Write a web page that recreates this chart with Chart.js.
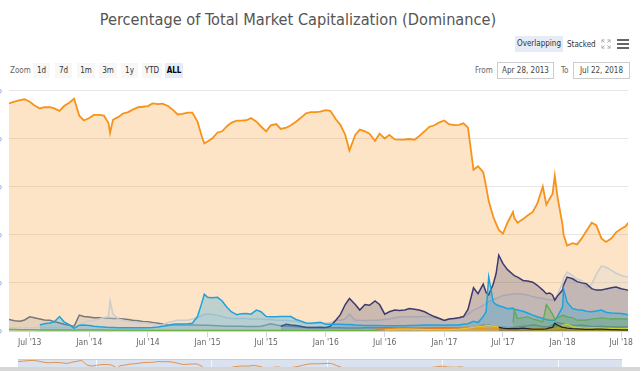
<!DOCTYPE html>
<html>
<head>
<meta charset="utf-8">
<script src="https://cdn.jsdelivr.net/npm/chart.js@4.4.0/dist/chart.umd.min.js"></script>
<style>
  html, body { margin: 0; padding: 0; }
  body {
    width: 640px; height: 371px; overflow: hidden; position: relative; background: #fff;
    font-family: "Liberation Sans Narrow", "DejaVu Sans Condensed", Roboto, sans-serif;
  }
  .abs { position: absolute; }
  #title { left: 0; top: 10px; width: 596px; text-align: center; font-size: 16.2px; color: #555; }
  .btn {
    position: absolute; top: 63px; height: 15px; line-height: 15px; font-size: 8px;
    color: #333; background: #f7f7f7; text-align: center;
  }
  .btn.on { background: #e6ebf5; color: #000; font-weight: bold; }
  .lbl { position: absolute; font-size: 8px; color: #666; line-height: 15px; }
  .inp {
    position: absolute; top: 62px; height: 15px; line-height: 15px; font-size: 8px; color: #444;
    border: 1px solid #ccc; text-align: center;
  }
  .bar { position: absolute; left: 617px; width: 12px; height: 2px; background: #666; }
</style>
</head>
<body>
<div id="title" class="abs">Percentage of Total Market Capitalization (Dominance)</div>

<div class="btn on" style="left:515px;top:36px;width:48px;height:16px;line-height:16px;font-weight:normal;color:#333">Overlapping</div>
<div class="lbl" style="left:567px;top:37px;color:#333">Stacked</div>
<svg class="abs" style="left:601px;top:39px" width="10" height="10" viewBox="0 0 11 11">
  <g stroke="#aaa" stroke-width="1" fill="none">
    <path d="M1 4V1h3M1 1l3 3"/><path d="M10 4V1H7M10 1L7 4"/>
    <path d="M1 7v3h3M1 10l3-3"/><path d="M10 7v3H7M10 10L7 7"/>
  </g>
</svg>
<div class="bar" style="top:39px"></div>
<div class="bar" style="top:43px"></div>
<div class="bar" style="top:47px"></div>

<div class="lbl" style="left:10px;top:63px">Zoom</div>
<div class="btn" style="left:33px;width:17px">1d</div>
<div class="btn" style="left:55px;width:17px">7d</div>
<div class="btn" style="left:77px;width:18px">1m</div>
<div class="btn" style="left:99px;width:18px">3m</div>
<div class="btn" style="left:121px;width:17px">1y</div>
<div class="btn" style="left:142px;width:20px">YTD</div>
<div class="btn on" style="left:165px;width:18px">ALL</div>

<div class="lbl" style="left:475px;top:63px">From</div>
<div class="inp" style="left:497px;width:55px">Apr 28, 2013</div>
<div class="lbl" style="left:561px;top:63px">To</div>
<div class="inp" style="left:573px;width:55px">Jul 22, 2018</div>

<canvas id="main" width="680" height="283" class="abs" style="left:-41px;top:78px"></canvas>

<div class="abs" style="left:18px;top:359px;width:604px;height:12px;background:#dae1ef;border-top:1px solid #c6cfe2"></div>
<canvas id="nav" width="604" height="40" class="abs" style="left:18px;top:360px"></canvas>
<div class="abs" style="left:0;top:367px;width:640px;height:4px;background:#d6d6d6"></div>

<script>
const FONT = '"Liberation Sans Narrow", "DejaVu Sans Condensed", Roboto, sans-serif';

const dates = [
  '2013-04-28','2013-05-15','2013-06-01','2013-06-15','2013-07-01','2013-07-15','2013-08-01','2013-08-15',
  '2013-09-01','2013-09-15','2013-10-01','2013-10-15','2013-11-01','2013-11-15','2013-12-01','2013-12-15',
  '2014-01-01','2014-01-15','2014-02-01','2014-02-15','2014-03-01','2014-03-06','2014-03-15','2014-04-01',
  '2014-04-15','2014-05-01','2014-05-15','2014-06-01','2014-06-15','2014-07-01','2014-07-15','2014-08-01',
  '2014-08-15','2014-09-01','2014-09-15','2014-10-01','2014-10-15','2014-11-01','2014-11-15','2014-12-01',
  '2014-12-15','2014-12-22',
  '2015-01-01','2015-01-15','2015-02-01','2015-02-15','2015-03-01','2015-03-15','2015-04-01','2015-04-15',
  '2015-05-01','2015-05-15','2015-06-01','2015-06-15','2015-07-01','2015-07-15','2015-08-01','2015-08-15',
  '2015-09-01','2015-09-15','2015-10-01','2015-10-15','2015-11-01','2015-11-15','2015-12-01','2015-12-15',
  '2016-01-01','2016-01-15','2016-02-01','2016-02-15','2016-03-01','2016-03-14','2016-04-01','2016-04-15',
  '2016-05-01','2016-05-15','2016-06-01','2016-06-15','2016-07-01','2016-07-15','2016-08-01','2016-08-15',
  '2016-09-01','2016-09-15','2016-10-01','2016-10-15','2016-11-01','2016-11-15','2016-12-01','2016-12-15',
  '2017-01-01','2017-01-15','2017-02-01','2017-02-15','2017-03-01','2017-03-15','2017-04-01','2017-04-15',
  '2017-05-01','2017-05-10','2017-05-18','2017-06-01','2017-06-10','2017-06-18','2017-07-01','2017-07-15',
  '2017-08-01','2017-08-05','2017-08-15','2017-09-01','2017-09-15','2017-10-01','2017-10-15','2017-11-01',
  '2017-11-12','2017-11-22','2017-12-01','2017-12-08','2017-12-16',
  '2018-01-01','2018-01-04','2018-01-15','2018-02-01','2018-02-15','2018-03-01','2018-03-15','2018-04-01',
  '2018-04-15','2018-05-01','2018-05-15','2018-06-01','2018-06-15','2018-07-01','2018-07-15','2018-07-22'
];

const gap = n => Array(n).fill(null);

const bitcoin = [
  94.6, 95.3, 96.0, 96.3, 95.3, 93.8, 92.5, 93.0, 93.0, 92.5, 91.5, 93.5, 95.0, 96.5, 89.5, 87.5,
  88.5, 89.8, 89.8, 89.5, 86.5, 82.3, 87.8, 89.0, 90.4, 91.0, 92.0, 93.0, 93.2, 93.5, 94.6, 94.3,
  94.5, 93.5, 92.0, 90.0, 90.2, 90.8, 90.8, 87.0, 80.5, 78.0,
  78.8, 80.0, 82.5, 83.0, 85.0, 86.5, 87.4, 87.4, 87.6, 88.5, 87.0, 85.0, 83.0, 85.5, 86.0, 84.0,
  84.5, 85.5, 87.0, 88.5, 90.5, 91.0, 91.0, 91.2,
  91.8, 91.5, 88.0, 85.7, 81.5, 75.0, 81.5, 83.7, 83.0, 82.0, 79.0, 82.0, 80.0, 81.5, 79.6, 79.5,
  79.6, 79.8, 79.5, 81.0, 83.0, 84.8, 85.5, 86.6,
  87.5, 86.0, 85.6, 85.7, 86.3, 84.5, 67.0, 68.5, 66.0, 60.0, 54.0, 47.5, 44.5, 42.0, 40.5, 45.0,
  49.5, 47.0, 45.0, 46.5, 48.0, 49.5, 53.0, 60.0, 52.5, 55.0, 57.0, 64.5, 56.0,
  44.0, 40.0, 35.5, 36.5, 36.0, 38.5, 41.5, 45.0, 44.0, 38.5, 37.0, 38.5, 41.0, 42.5, 43.5, 45.0
];

const litecoin = [
  4.8, 4.3, 4.1, 4.6, 5.9, 5.5, 5.0, 4.6, 4.5, 3.9, 3.3, 2.8, 2.4, 1.9, 6.6, 6.0,
  5.8, 5.5, 5.5, 5.3, 5.3, 5.3, 5.2, 5.2, 5.0, 4.8, 4.5, 4.3, 4.0, 3.8, 3.5, 3.2,
  2.9, 2.6, 2.5, 2.5, 2.5, 2.5, 2.5, 2.5, 2.4, 2.4,
  2.4, 2.3, 2.2, 2.1, 2.0, 2.0, 2.0, 2.0, 1.9, 1.9, 1.9, 2.0, 2.5, 3.0, 2.5, 2.2,
  2.0, 2.0, 1.8, 1.7, 1.6, 1.5, 1.5, 1.4,
  1.4, 1.3, 1.3, 1.3, 1.2, 1.2, 1.2, 1.2, 1.3, 1.3, 1.3, 1.3, 1.3, 1.3, 1.3, 1.3,
  1.3, 1.3, 1.3, 1.2, 1.2, 1.2, 1.2, 1.2,
  1.2, 1.2, 1.2, 1.2, 1.2, 1.3, 1.5, 1.8, 2.5, 2.6, 2.5, 2.0, 1.8, 1.7, 1.6, 1.5,
  1.5, 1.5, 1.8, 2.0, 2.2, 2.5, 2.3, 1.8, 1.8, 1.9, 2.5, 3.2, 3.5,
  3.0, 2.9, 2.5, 2.3, 2.3, 2.5, 2.2, 1.9, 1.9, 2.0, 1.8, 1.8, 1.7, 1.7, 1.8, 1.8
];

const ripple = [
  null, null, null, null, null, null, 2.5, 3.0, 3.3, 3.8, 6.0, 3.8, 2.5, 1.1, 2.4, 2.5,
  2.3, 2.0, 1.8, 1.7, 1.5, 1.5, 1.5, 1.4, 1.4, 1.4, 1.4, 1.4, 1.4, 1.4, 1.5, 1.7,
  2.0, 2.3, 2.8, 2.9, 2.9, 3.0, 3.2, 6.0, 12.0, 15.3,
  14.0, 13.8, 14.0, 12.5, 10.0, 8.0, 6.8, 7.2, 7.3, 7.0, 8.7, 8.0, 6.0, 5.9, 5.9, 6.0,
  6.0, 6.0, 4.8, 4.2, 3.3, 3.2, 3.4, 3.6,
  2.8, 2.8, 2.8, 2.8, 2.7, 2.7, 2.5, 2.4, 2.3, 2.3, 2.3, 2.3, 2.2, 2.2, 2.2, 2.2,
  2.2, 2.3, 2.3, 2.4, 2.5, 2.5, 2.5, 2.5,
  2.4, 2.5, 2.5, 2.5, 2.8, 3.0, 4.0, 3.5, 6.0, 8.0, 22.5, 12.0, 11.0, 10.5, 10.0, 9.3,
  9.5, 9.0, 8.7, 8.2, 7.5, 6.6, 5.9, 5.2, 4.8, 4.5, 4.5, 4.5, 6.0,
  10.0, 17.5, 12.0, 9.3, 8.8, 8.7, 8.2, 8.0, 8.3, 8.7, 7.8, 7.5, 7.4, 7.3, 7.0, 6.6
];

const others = [
  1.4, 1.4, 1.3, 1.3, 1.4, 1.5, 1.5, 1.5, 1.5, 1.5, 1.5, 1.5, 1.5, 1.4, 2.5, 3.5,
  4.3, 4.5, 5.0, 5.5, 6.0, 12.5, 7.0, 5.0, 4.5, 4.0, 3.8, 3.5, 3.4, 3.2, 3.0, 2.6,
  2.5, 3.5, 4.0, 4.5, 4.5, 4.5, 5.0, 5.5, 6.5, 7.0,
  7.0, 7.0, 6.5, 6.0, 5.5, 5.2, 5.2, 5.2, 5.2, 5.0, 5.0, 5.0, 4.8, 4.8, 4.5, 4.5,
  4.5, 4.3, 4.0, 3.6, 3.3, 3.2, 3.2, 3.2,
  3.2, 3.5, 4.5, 4.5, 5.0, 7.0, 4.5, 4.5, 4.3, 4.5, 4.5, 4.5, 4.8, 5.0, 5.5, 5.8,
  5.9, 5.9, 5.9, 5.9, 6.0, 6.0, 5.5, 5.2,
  4.5, 5.0, 5.5, 5.5, 5.9, 7.0, 8.7, 9.5, 10.7, 11.5, 12.2, 13.0, 13.5, 14.0, 14.8, 15.0,
  15.5, 15.5, 15.5, 15.3, 15.0, 14.3, 13.8, 13.5, 13.2, 13.0, 12.8, 13.5, 15.0,
  20.0, 22.0, 24.5, 23.0, 21.5, 21.0, 18.0, 19.5, 23.5, 27.0, 26.5, 25.2, 24.0, 23.1, 22.6, 22.4
];

const ethereum = [
  ...gap(57),
  2.0, 2.8, 2.5, 2.3, 2.0, 1.5, 1.5, 1.5, 1.6,
  1.5, 2.0, 4.5, 6.8, 11.0, 13.5, 11.0, 8.7, 11.0, 10.7, 12.5, 11.0, 7.0, 8.0, 8.7, 8.5,
  8.7, 9.3, 9.0, 8.7, 8.0, 7.0, 6.0, 5.3,
  4.4, 5.0, 5.2, 5.5, 6.0, 9.0, 18.0, 15.5, 19.5, 16.0, 15.0, 19.5, 24.0, 31.5, 28.0, 25.5,
  23.5, 23.0, 22.4, 21.0, 20.8, 20.3, 19.0, 17.0, 15.5, 15.8, 15.0, 12.8, 14.5,
  17.0, 19.0, 22.4, 21.7, 20.5, 20.0, 19.7, 17.6, 17.0, 17.0, 17.5, 18.0, 18.3, 17.6, 17.2, 16.9
];

const bitcoinCash = [
  ...gap(106),
  3.5, 8.5, 5.2, 5.5, 5.9, 5.0, 4.5, 3.8, 11.0, 9.0, 7.0, 5.0, 5.5,
  6.5, 6.5, 5.9, 5.5, 4.5, 4.5, 4.5, 5.0, 5.2, 5.5, 5.2, 5.0, 5.0, 5.0, 4.9, 4.9
];

const dash = [
  ...gap(76),
  0.8, 0.8, 0.9, 1.0, 1.2, 1.3, 1.2, 1.3, 1.4, 1.3, 1.2, 1.2, 1.1, 1.0,
  1.0, 1.0, 1.2, 1.3, 1.5, 1.6, 1.3, 1.2, 1.0, 0.9, 0.8, 0.9, 0.9, 0.8, 0.8, 0.8,
  0.7, 0.7, 0.7, 0.8, 0.9, 0.8, 0.8, 0.7, 0.7, 0.8, 0.8, 0.9, 0.9,
  0.8, 0.8, 0.7, 0.7, 0.7, 0.6, 0.6, 0.6, 0.6, 0.6, 0.6, 0.5, 0.5, 0.5, 0.5, 0.5
];

const nem = [
  ...gap(78),
  0.5, 0.6, 0.7, 0.8, 0.8, 0.8, 0.7, 0.7, 0.6, 0.6, 0.6, 0.6,
  0.6, 0.6, 0.7, 0.8, 1.0, 1.2, 1.5, 1.8, 2.0, 2.5, 2.3, 2.0, 1.8, 1.5, 1.3, 1.2,
  1.0, 1.0, 1.0, 1.0, 1.0, 0.9, 0.9, 0.8, 0.8, 0.8, 0.8, 0.9, 1.0,
  1.0, 1.0, 1.0, 0.9, 0.8, 0.8, 0.7, 0.7, 0.7, 0.7, 0.6, 0.6, 0.6, 0.6, 0.6, 0.6
];

const iota = [
  ...gap(103),
  1.5, 1.2, 1.0, 1.0, 1.0, 1.0, 1.2, 1.0, 0.8, 0.8, 0.8, 0.9, 1.3, 1.5, 3.2, 2.5,
  1.5, 1.5, 1.2, 1.0, 0.9, 0.8, 0.7, 0.7, 0.8, 0.8, 0.7, 0.6, 0.6, 0.5, 0.5, 0.5
];

const cardano = [
  ...gap(111),
  0.5, 0.5, 0.6, 0.6, 0.7, 0.8, 1.0, 1.5,
  2.0, 2.5, 2.8, 1.8, 1.5, 1.3, 1.2, 1.3, 1.3, 1.2, 1.1, 1.1, 1.0, 1.0, 1.0, 1.0
];

const peercoin = [
  0.7, 0.7, 0.6, 0.6, 0.6, 0.6, 0.5, 0.5, 0.5, 0.5, 0.5, 0.5, 0.5, 0.4, 0.5, 0.5,
  0.5, 0.5, 0.5, 0.5, 0.4, 0.4, 0.4, 0.4, 0.4, 0.4, 0.4, 0.4, 0.4, 0.3, 0.3, 0.3,
  0.3, 0.3, 0.3, 0.3, 0.3, 0.3, 0.3, 0.3, 0.3, 0.3,
  0.3, 0.3, 0.3, 0.3, 0.3, 0.3, 0.3, 0.3, 0.3, 0.3, 0.3, 0.3, 0.3, 0.3, 0.3, 0.3,
  0.2, 0.2, 0.2, 0.2, 0.2, 0.2, 0.2, 0.2,
  0.2, 0.2, 0.2, 0.2, 0.2, 0.2, 0.2, 0.2, 0.2, 0.2, 0.2, 0.2
];

const tickDates = ['2013-07-01','2014-01-01','2014-07-01','2015-01-01','2015-07-01','2016-01-01',
                   '2016-07-01','2017-01-01','2017-07-01','2018-01-01','2018-07-01'];
const tickLabels = ["Jul '13", "Jan '14", "Jul '14", "Jan '15", "Jul '15", "Jan '16",
                    "Jul '16", "Jan '17", "Jul '17", "Jan '18", "Jul '18"];
const yTicks = [0, 20, 40, 60, 80, 100];
const navTicks = ['2014-01-01','2015-01-01','2016-01-01','2017-01-01','2018-01-01'];

const day = s => Date.parse(s) / 864e5;
const xs = dates.map(day);

Chart.defaults.font.family = FONT;

function area(label, values, color, fill, width) {
  return {
    label,
    data: values.map((v, i) => ({ x: xs[i], y: v })),
    borderColor: color,
    backgroundColor: fill,
    borderWidth: width,
    fill: 'origin',
    pointRadius: 0,
    tension: 0
  };
}

// first in the list is painted last (on top); bitcoin sits underneath
new Chart(document.getElementById('main'), {
  type: 'line',
  data: {
    datasets: [
      area('IOTA', iota, '#222222', 'rgba(34,34,34,0.25)', 1.2),
      area('Cardano', cardano, '#c2d82e', 'rgba(194,216,46,0.3)', 1.2),
      area('NEM', nem, '#f2c318', 'rgba(242,195,24,0.3)', 1.2),
      area('Dash', dash, '#f07c1c', 'rgba(240,124,28,0.3)', 1.2),
      area('Peercoin', peercoin, '#6bb33e', 'rgba(107,179,62,0.3)', 1.2),
      area('Bitcoin Cash', bitcoinCash, '#5ea84c', 'rgba(94,168,76,0.28)', 1.2),
      area('Ripple', ripple, '#1fa3dc', 'rgba(31,163,220,0.28)', 1.5),
      area('Ethereum', ethereum, '#3b3b70', 'rgba(59,59,112,0.25)', 1.5),
      area('Others', others, '#cccccc', 'rgba(215,215,215,0.35)', 1.5),
      area('Litecoin', litecoin, '#777777', 'rgba(140,140,140,0.2)', 1.5),
      area('Bitcoin', bitcoin, '#f7931a', 'rgba(247,147,26,0.25)', 1.8)
    ]
  },
  options: {
    responsive: false,
    animation: false,
    devicePixelRatio: 1,
    layout: { padding: { top: 8.5, right: 11, bottom: 0, left: 0 } },
    plugins: { legend: { display: false }, tooltip: { enabled: false } },
    scales: {
      x: {
        type: 'linear',
        min: xs[0],
        max: xs[xs.length - 1],
        afterBuildTicks: ax => { ax.ticks = tickDates.map(d => ({ value: day(d) })); },
        afterFit: ax => { ax.height = 30; },
        ticks: {
          autoSkip: false, maxRotation: 0, padding: 1, color: '#666',
          font: { size: 8.5 },
          callback: (v, i) => tickLabels[i]
        },
        grid: { drawOnChartArea: false, drawTicks: true, tickLength: 6, color: '#ccd6eb' },
        border: { color: '#ccd6eb' }
      },
      y: {
        min: 0,
        max: 100,
        afterBuildTicks: ax => { ax.ticks = yTicks.map(v => ({ value: v })); },
        afterFit: ax => { ax.width = 50; },
        ticks: { padding: 7, color: '#6f92c9', font: { size: 9 }, callback: v => v + '%' },
        grid: { color: '#e6e6e6', drawTicks: false },
        border: { display: false }
      }
    }
  }
});

// navigator strip under the chart
new Chart(document.getElementById('nav'), {
  type: 'line',
  data: {
    datasets: [{
      data: bitcoin.map((v, i) => ({ x: xs[i], y: v })),
      borderColor: '#e0934a',
      borderWidth: 1,
      pointRadius: 0,
      fill: false,
      tension: 0
    }]
  },
  options: {
    responsive: false,
    animation: false,
    devicePixelRatio: 1,
    layout: { padding: 0 },
    plugins: { legend: { display: false }, tooltip: { enabled: false } },
    scales: {
      x: {
        type: 'linear',
        min: xs[0],
        max: xs[xs.length - 1],
        afterBuildTicks: ax => { ax.ticks = navTicks.map(d => ({ value: day(d) })); },
        ticks: { display: false },
        grid: { color: 'rgba(255,255,255,0.8)', drawTicks: false },
        border: { display: false }
      },
      y: { display: false, min: 34, max: 97 }
    }
  }
});
</script>
</body>
</html>
